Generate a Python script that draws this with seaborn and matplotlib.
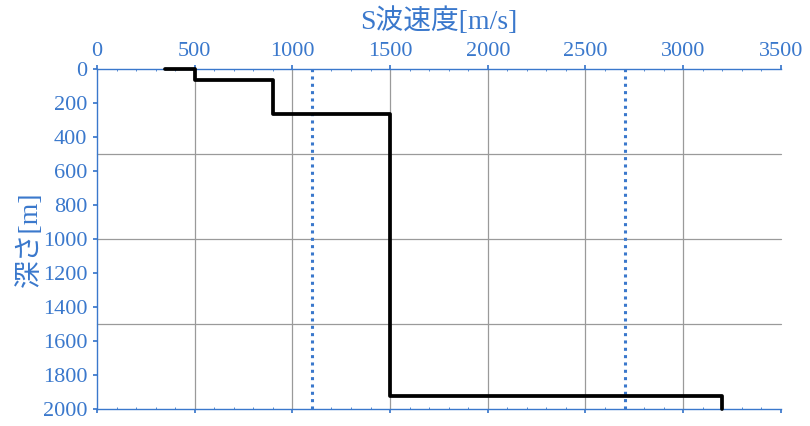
import matplotlib
matplotlib.use("Agg")
import matplotlib.pyplot as plt
import seaborn as sns
import pandas as pd
from matplotlib.ticker import MultipleLocator

# Data: step profile points (S-wave velocity vs depth)
velocity = [350, 500, 500, 900, 900, 1500, 1500, 3200, 3200]
depth = [0, 0, 65, 65, 265, 265, 1925, 1925, 2000]
ref_velocities = [1100, 2700]

x_label = "S波速度[m/s]"
y_label = "深さ[m]"

sns.set_theme(style="white")
plt.rcParams['font.family'] = ['Liberation Serif', 'Noto Sans CJK JP', 'DejaVu Sans']

BLUE = '#3A78CC'
GRID = '#9a9a9a'

fig = plt.figure(figsize=(8.1, 4.26), dpi=100)
ax = fig.add_axes([0.1198, 0.0399, 0.964 - 0.1198, 0.838 - 0.0399])

# gridlines
for gx in [500, 1000, 1500, 2000, 2500, 3000]:
    ax.axvline(gx, color=GRID, lw=0.9, zorder=0)
for gy in [500, 1000, 1500]:
    ax.axhline(gy, color=GRID, lw=0.9, zorder=0)

df = pd.DataFrame({"v": velocity, "d": depth})
sns.lineplot(data=df, x="v", y="d", sort=False, estimator=None, color='black', lw=2.7, ax=ax, zorder=3)
for ln in ax.get_lines():
    ln.set_clip_on(False)

for rv in ref_velocities:
    ax.axvline(rv, color=BLUE, lw=2.2, ls=(0, (1.0, 1.4)), zorder=2)

ax.set_xlim(0, 3500)
ax.set_ylim(2000, 0)
ax.xaxis.set_label_position('top')
ax.xaxis.set_major_locator(MultipleLocator(500))
ax.yaxis.set_major_locator(MultipleLocator(200))
ax.xaxis.set_minor_locator(MultipleLocator(100))

ax.tick_params(axis='x', which='major', top=True, bottom=True, labeltop=True, labelbottom=False,
               direction='out', length=3, color=BLUE, labelcolor=BLUE, labelsize=16, pad=3)
ax.tick_params(axis='x', which='minor', top=True, bottom=True, direction='in', length=1.5, color=BLUE,
               width=0.6)
ax.tick_params(axis='y', which='major', left=True, direction='out', length=3,
               color=BLUE, labelcolor=BLUE, labelsize=16, pad=4)

for s in ['top', 'left', 'bottom']:
    ax.spines[s].set_color(BLUE)
    ax.spines[s].set_linewidth(1.0)
ax.spines['right'].set_visible(False)

ax.set_xlabel(x_label, color=BLUE, fontsize=20, labelpad=9)
ax.set_ylabel(y_label, color=BLUE, fontsize=20, labelpad=0)

for lab in ax.get_xticklabels() + ax.get_yticklabels():
    lab.set_fontfamily(['Liberation Serif'])

fig.savefig("out.png", dpi=100)
